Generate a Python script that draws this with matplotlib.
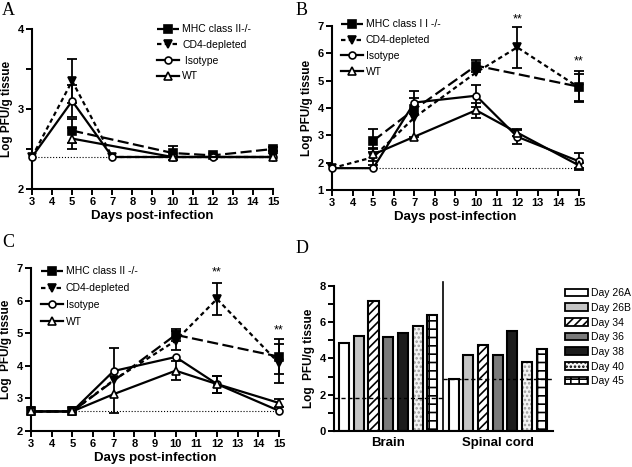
"""Viral titres over time (A-C) and late brain / spinal cord titres (D)."""

import numpy as np
import matplotlib

matplotlib.use("Agg")
from matplotlib import pyplot as plt

plt.rcParams["font.family"] = ["Liberation Sans", "DejaVu Sans"]
plt.rcParams["hatch.linewidth"] = 1.2

# ---- panel A ----
a_mhc_days = [5, 10, 12, 15]
a_mhc = [2.73, 2.45, 2.42, 2.50]
a_mhc_err = [0.15, 0.09, 0, 0.03]
a_cd4_days = [3, 5, 7, 10, 12, 15]
a_cd4 = [2.4, 3.35, 2.4, 2.4, 2.4, 2.4]
a_cd4_err = [0, 0.27, 0, 0, 0, 0]
a_iso_days = [3, 5, 7, 10, 12, 15]
a_iso = [2.4, 3.1, 2.4, 2.4, 2.4, 2.4]
a_iso_err = [0, 0.2, 0, 0, 0, 0]
a_wt_days = [5, 10, 15]
a_wt = [2.63, 2.4, 2.4]
a_wt_err = [0.13, 0, 0]
a_limit = 2.4

# ---- panel B ----
b_mhc_days = [5, 7, 10, 15]
b_mhc = [2.8, 3.95, 5.55, 4.78]
b_mhc_err = [0.42, 0, 0.22, 0.57]
b_cd4_days = [3, 5, 7, 10, 12, 15]
b_cd4 = [1.8, 2.2, 3.65, 5.3, 6.22, 4.75]
b_cd4_err = [0, 0.3, 0.7, 0, 0.76, 0.5]
b_iso_days = [3, 5, 7, 10, 12, 15]
b_iso = [1.8, 1.8, 4.2, 4.45, 2.95, 2.05]
b_iso_err = [0, 0, 0.42, 0.4, 0.25, 0.3]
b_wt_days = [5, 7, 10, 12, 15]
b_wt = [2.3, 2.95, 3.92, 3.1, 1.9]
b_wt_err = [0.25, 0, 0.28, 0.12, 0.08]
b_limit = 1.8

# ---- panel C ----
c_mhc_days = [3, 5, 10, 15]
c_mhc = [2.6, 2.6, 4.95, 4.28]
c_mhc_err = [0, 0, 0.18, 0.54]
c_cd4_days = [3, 5, 7, 10, 12, 15]
c_cd4 = [2.6, 2.6, 3.56, 4.77, 6.05, 4.08]
c_cd4_err = [0, 0, 1.0, 0.3, 0.5, 0.6]
c_iso_days = [3, 5, 7, 10, 12, 15]
c_iso = [2.6, 2.6, 3.84, 4.27, 3.44, 2.62]
c_iso_err = [0, 0, 0, 0, 0.26, 0]
c_wt_days = [3, 5, 7, 10, 12, 15]
c_wt = [2.6, 2.6, 3.13, 3.85, 3.44, 2.86]
c_wt_err = [0, 0, 0, 0.3, 0.26, 0.12]
c_limit = 2.6

# ---- panel D ----
d_groups = ["Brain", "Spinal cord"]
d_days = ["Day 26A", "Day 26B", "Day 34", "Day 36", "Day 38", "Day 40", "Day 45"]
d_brain = [4.85, 5.24, 7.15, 5.2, 5.4, 5.77, 6.4]
d_spinal = [2.85, 4.17, 4.76, 4.21, 5.53, 3.82, 4.5]
d_limits = [1.84, 2.85]

styles = {
    "mhc": dict(ls=(0, (5, 2)), marker="s", mfc="black", ms=5.5),
    "cd4": dict(ls=(0, (2, 1.5)), marker="v", mfc="black", ms=5.5),
    "iso": dict(ls="-", marker="o", mfc="white", ms=5),
    "wt": dict(ls="-", marker="^", mfc="white", ms=6),
}


def style_axes(ax):
    for s in ("top", "right"):
        ax.spines[s].set_visible(False)
    for s in ("left", "bottom"):
        ax.spines[s].set_linewidth(1.5)
    ax.tick_params(which="both", direction="out", length=4, width=1.4,
                   labelsize=8, pad=2)
    for t in ax.get_xticklabels() + ax.get_yticklabels():
        t.set_fontweight("bold")


def line_panel(ax, series, limit, ylim, yticks, minor=None):
    handles = []
    for key, (days, vals, errs) in series.items():
        st = styles[key]
        (h,) = ax.plot(days, vals, color="black", lw=1.6, ls=st["ls"],
                       marker=st["marker"], mfc=st["mfc"], mec="black",
                       mew=1.2, ms=st["ms"], clip_on=False, zorder=3)
        handles.append(h)
        days, vals, errs = map(np.asarray, (days, vals, errs))
        m = errs > 0
        ax.errorbar(days[m], vals[m], yerr=errs[m], fmt="none", ecolor="black",
                    elinewidth=1.3, capsize=3.5, capthick=1.3, clip_on=False,
                    zorder=2)
    ax.axhline(limit, color="black", ls=":", lw=0.8, zorder=1)
    ax.set_xlim(3, 15)
    ax.set_ylim(*ylim)
    ax.set_xticks(range(3, 16))
    ax.set_yticks(yticks)
    if minor is not None:
        ax.set_yticks(minor, minor=True)
    style_axes(ax)
    ax.set_xlabel("Days post-infection", fontsize=9.5, fontweight="bold",
                  labelpad=2)
    return handles


leg_kw = dict(loc="upper left", frameon=False, fontsize=7.5, handlelength=2.1,
              handletextpad=0.3, borderpad=0, borderaxespad=0)

fig = plt.figure(figsize=(6.32, 4.67), dpi=100)

axA = fig.add_axes([0.0506, 0.5953, 0.3813, 0.3426])
hA = line_panel(axA, {"mhc": (a_mhc_days, a_mhc, a_mhc_err),
                      "cd4": (a_cd4_days, a_cd4, a_cd4_err),
                      "iso": (a_iso_days, a_iso, a_iso_err),
                      "wt": (a_wt_days, a_wt, a_wt_err)},
                a_limit, (2, 4), [2, 3, 4], [2.5, 3.5])
axA.set_ylabel("Log PFU/g tissue", fontsize=8.5, fontweight="bold", labelpad=3)
axA.legend(hA, ["MHC class II-/-", "CD4-depleted", " Isotype", "WT"],
           bbox_to_anchor=(0.52, 1.03), labelspacing=0.55, **leg_kw)

axB = fig.add_axes([0.5253, 0.5931, 0.3908, 0.3512])
hB = line_panel(axB, {"mhc": (b_mhc_days, b_mhc, b_mhc_err),
                      "cd4": (b_cd4_days, b_cd4, b_cd4_err),
                      "iso": (b_iso_days, b_iso, b_iso_err),
                      "wt": (b_wt_days, b_wt, b_wt_err)},
                b_limit, (1, 7), range(1, 8))
axB.set_ylabel("Log PFU/g tissue", fontsize=8.5, fontweight="bold", labelpad=3)
axB.legend(hB, ["MHC class I I -/-", "CD4-depleted", "Isotype", "WT"],
           bbox_to_anchor=(0.035, 1.04), labelspacing=0.55, **leg_kw)
axB.text(12, 7.25, "**", ha="center", va="center", fontsize=9, clip_on=False)
axB.text(15, 5.7, "**", ha="center", va="center", fontsize=9, clip_on=False)

axC = fig.add_axes([0.049, 0.0771, 0.3924, 0.349])
hC = line_panel(axC, {"mhc": (c_mhc_days, c_mhc, c_mhc_err),
                      "cd4": (c_cd4_days, c_cd4, c_cd4_err),
                      "iso": (c_iso_days, c_iso, c_iso_err),
                      "wt": (c_wt_days, c_wt, c_wt_err)},
                c_limit, (2, 7), range(2, 8))
axC.set_ylabel("Log  PFU/g tissue", fontsize=8.5, fontweight="bold", labelpad=3)
axC.legend(hC, ["MHC class II -/-", "CD4-depleted", "Isotype", "WT"],
           bbox_to_anchor=(0.04, 1.01), labelspacing=0.65, **leg_kw)
axC.text(12, 6.85, "**", ha="center", va="center", fontsize=9, clip_on=False)
axC.text(15, 5.08, "**", ha="center", va="center", fontsize=9, clip_on=False)

# ---- bar panel ----
axD = fig.add_axes([0.5285, 0.0771, 0.3465, 0.3105])
fills = [
    dict(fc="white", hatch=None),
    dict(fc="#c4c4c4", hatch=None),
    dict(fc="white", hatch="////", hc="black"),
    dict(fc="#7a7a7a", hatch=None),
    dict(fc="#1c1c1c", hatch=None),
    dict(fc="#f4f4f4", hatch="....", hc="#9a9a9a"),
    dict(fc="white", hatch="++", hc="black"),
]
gap = 1.43
width = 0.68
n = len(d_days)
for g, vals in enumerate([d_brain, d_spinal]):
    x0 = g * (n - 1 + gap)
    for i, v in enumerate(vals):
        f = fills[i]
        axD.bar(x0 + i, v, width=width, facecolor=f["fc"],
                edgecolor=f.get("hc", "black"), hatch=f["hatch"], lw=0)
        axD.bar(x0 + i, v, width=width, facecolor="none", edgecolor="black",
                lw=1.5)
xmax = 2 * n - 2 + gap + 0.75
div = n - 1 + 0.7
axD.plot([-0.68, div], [d_limits[0]] * 2, color="black", ls=(0, (3, 2)), lw=1)
axD.plot([div, xmax], [d_limits[1]] * 2, color="black", ls=(0, (3, 2)), lw=1)
axD.plot([div, div], [0, 8.2], color="black", lw=1.2, clip_on=False)
axD.set_xlim(-0.68, xmax)
axD.set_ylim(0, 8)
axD.set_yticks([0, 2, 4, 6, 8])
axD.set_yticks([1, 3, 5, 7], minor=True)
axD.set_xticks([(n - 1) / 2, (n - 1) / 2 + n - 1 + gap])
axD.set_xticklabels(d_groups)
style_axes(axD)
axD.tick_params(axis="x", length=0, labelsize=9.5, pad=4)
axD.set_ylabel("Log  PFU/g tissue", fontsize=8.5, fontweight="bold", labelpad=3)

proxies = [matplotlib.patches.Patch(facecolor=f["fc"], edgecolor="black",
                                    hatch=f["hatch"], lw=1.3) for f in fills]
fig.legend(proxies, d_days, loc="upper left", bbox_to_anchor=(0.894, 0.383),
           frameon=False, fontsize=7.5, handlelength=2.2, handleheight=0.75,
           handletextpad=0.3, borderpad=0, borderaxespad=0, labelspacing=0.45)

for lab, x, y in [("A", 0.003, 0.995), ("B", 0.468, 0.995),
                  ("C", 0.003, 0.498), ("D", 0.468, 0.487)]:
    fig.text(x, y, lab, fontsize=13, family=["Liberation Serif", "DejaVu Serif"],
             va="top", ha="left")

fig.savefig("out.png", dpi=100)
